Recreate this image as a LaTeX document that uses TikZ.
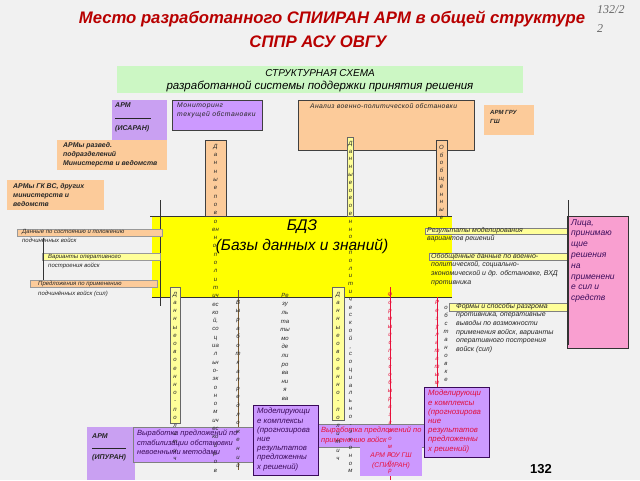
\documentclass[tikz,border=0pt]{standalone}
\usepackage{fontspec}
\setmainfont{Liberation Sans}
\newfontfamily\serifit{Liberation Serif}
\newfontfamily\wideA[LetterSpace=8]{Liberation Sans}
\newfontfamily\wideB[LetterSpace=5]{Liberation Sans}
\makeatletter
\newcommand\vtext[1]{\@tfor\vch:=#1\do{\vch\\}}
\makeatother
\definecolor{peach}{HTML}{FCCB9A}
\definecolor{lgreen}{HTML}{CCF7C4}
\definecolor{lav}{HTML}{C9A0F2}
\definecolor{purp}{HTML}{CC99FF}
\definecolor{byell}{HTML}{FFFF00}
\definecolor{lyell}{HTML}{FFFF99}
\definecolor{pinkb}{HTML}{F99FD0}
\definecolor{titred}{HTML}{B80000}
\definecolor{bgc}{HTML}{F1F1F1}
\definecolor{dpurp}{HTML}{3A0A5A}
\definecolor{redt}{HTML}{E8103A}
\definecolor{brownl}{HTML}{7A5A30}
\begin{document}
\begin{tikzpicture}[x=1pt,y=-1pt,
  sm/.style={font=\itshape\fontsize{6}{9.6}\selectfont, text=black!85, align=left, inner sep=0pt, anchor=north west},
  rb/.style={sm, font=\itshape\fontsize{7}{8.6}\selectfont},
  tb/.style={sm, font=\bfseries\itshape\fontsize{6.9}{9}\selectfont},
  vcol/.style={font=\itshape\fontsize{6}{#1}\selectfont, text=black!85, align=center, inner sep=0pt, anchor=north},
  boxline/.style={draw=black!75, line width=0.8pt},
  shad/.style={draw=black!80, line width=0.6pt}]
\useasboundingbox (0,0) rectangle (640,480);
\fill[bgc] (0,0) rectangle (640,480);
% title
\node (t1) [font=\bfseries\itshape\fontsize{16.7}{20}\selectfont, text=titred, inner sep=0pt] at (332,19) {Место разработанного СПИИРАН АРМ в общей структуре};
\node (t2) [font=\bfseries\itshape\fontsize{16.7}{20}\selectfont, text=titred, inner sep=0pt] at (318,42) {СППР АСУ ОВГУ};
\node (pn) [font=\serifit\itshape\fontsize{12}{19}\selectfont, text=black!60, align=left, inner sep=0pt, anchor=north west] at (597,5) {132/2\\2};
% header
\fill[lgreen] (117,66) rectangle (523,93);
\node (h1) [font=\itshape\fontsize{10}{12}\selectfont, inner sep=0pt] at (320,73) {СТРУКТУРНАЯ СХЕМА};
\node (h2) [font=\itshape\fontsize{11.5}{12}\selectfont, inner sep=0pt] at (320,86) {разработанной системы поддержки принятия решения};
% top boxes
\fill[lav] (112,100) rectangle (167,140);
\node (arm1) [tb, font=\bfseries\itshape\fontsize{7}{9.5}\selectfont] at (115,102) {АРМ\\[4pt]\rule[2pt]{36pt}{0.4pt}\\(ИСАРАН)};
\fill[purp, boxline] (172,100) rectangle (262,130);
\node (mon) [sm, font=\wideA\itshape\fontsize{6.8}{9}\selectfont] at (177,103) {Мониторинг\\текущей обстановки};
\fill[peach, boxline] (298,100) rectangle (474,150);
\node (anl) [sm, font=\wideB\itshape\fontsize{6.8}{9}\selectfont] at (310,103) {Анализ военно-политической обстановки};
\fill[peach] (484,105) rectangle (534,135);
\node (gru) [tb, font=\bfseries\itshape\fontsize{6}{9}\selectfont] at (490,110) {АРМ ГРУ\\ГШ};
\fill[peach] (57,140) rectangle (167,170);
\node (razv) [tb] at (63,142) {АРМы развед.\\подразделений\\Министерств и ведомств};
\fill[peach] (7,180) rectangle (104,210);
\node (gkvs) [tb] at (13,183) {АРМы ГК ВС, других\\министерств и\\ведомств};
% BDZ
\fill[byell] (152,216) rectangle (452,297);
\draw[shad] (150,216) -- (452,216);
\draw[shad] (152,297) -- (452,297);
\draw[shad] (160,200) -- (160,306);
\node (bdz1) [font=\itshape\fontsize{15.5}{17}\selectfont, inner sep=0pt] at (302,227) {БДЗ};
\node (bdz2) [font=\itshape\fontsize{15.5}{17}\selectfont, inner sep=0pt] at (302,246) {(Базы данных и знаний)};
% top strips
\fill[peach, boxline] (205,140) rectangle (226,216);
\fill[lyell, draw=black!60] (347,137) rectangle (353,216);
\fill[peach, boxline] (436,140) rectangle (447,216);
% bottom strips
\fill[lyell, draw=black!60] (170,287) rectangle (180,423);
\fill[lyell, draw=black!60] (332,287) rectangle (344,420);
\draw[brownl, line width=1pt] (238,290) -- (238,470);
\draw[redt, line width=0.8pt] (390,287) -- (390,480);
\draw[redt, line width=0.8pt] (437,297) -- (437,400);
\draw[shad] (185,297) -- (250,297);
% bottom boxes under letters
\fill[lav] (87,427) rectangle (135,480);
\node (arm2) [tb, font=\bfseries\itshape\fontsize{7}{9}\selectfont] at (92,433) {АРМ\\[3pt]\rule[2pt]{34pt}{0.4pt}\\(ИПУРАН)};
\fill[purp, draw=black!50] (133,427) rectangle (318,462);
\node (vyr1) [sm, font=\itshape\fontsize{7.5}{9.5}\selectfont, text=dpurp] at (137,430) {Выработка предложений по\\стабилизации обстановки\\невоенными методами};
\fill[purp, draw=black!50] (318,424) rectangle (425,447);
\node (vyr2) [sm, font=\itshape\fontsize{7.5}{9.5}\selectfont, text=redt] at (321,427) {Выработка предложений по\\применению войск};
\fill[purp] (360,447) rectangle (422,476);
\node (gou) [font=\itshape\fontsize{6.8}{9.5}\selectfont, text=redt, align=center, inner sep=0pt] at (391,461) {АРМ ГОУ ГШ\\(СПИИРАН)};
% letter columns
\node (cA) [vcol=8.3] at (215.5,144) {\vtext{Данныепово}ен\\н\\о-\\п\\о\\л\\и\\т\\ич\\ес\\ко\\й,\\со\\ц\\иа\\л\\ьн\\о-\\эк\\о\\н\\о\\м\\ич\\ес\\ко\\й\\р.\\о\\в};
\node (cB) [vcol=7.8] at (350.5,141) {\vtext{Данныеовоенно-политической,социально-эконом}};
\node (cC) [vcol=7.8] at (441.5,145) {\vtext{Обобщённые}};
\node (cD) [vcol=8.2] at (175,292) {\vtext{Данныеовоенно-политич}};
\node (cF) [vcol=8.2] at (338,292) {\vtext{Данныеовоенно-политич}};
\node (cE) [vcol=8.6] at (238,300) {\vtext{Выработкапредложений}};
\node (cG) [vcol=8.6] at (285,293) {Ре\\зу\\ль\\та\\ты\\мо\\де\\ли\\ро\\ва\\ни\\я\\ва\\ри\\ан\\то\\в};
\node (cR1) [vcol=8, text=redt] at (390,292) {\vtext{Формыиспособыразгромапр}};
\node (cR2) [vcol=8, text=redt] at (437,300) {\vtext{Результатым}};
\node (cH) [vcol=8] at (446,306) {\vtext{обстановке}};
% modelling boxes
\fill[purp, draw=dpurp, line width=0.8pt] (253,405) rectangle (318,475);
\node (mod1) [sm, font=\itshape\fontsize{7.8}{9.2}\selectfont, text=dpurp] at (257,408) {Моделирующи\\е комплексы\\(прогнозирова\\ние\\результатов\\предложенны\\х решений)};
\fill[purp, draw=dpurp, line width=0.8pt] (424,387) rectangle (489,457);
\node (mod2) [sm, font=\itshape\fontsize{7.8}{9.2}\selectfont, text=redt!80!purple] at (428,390) {Моделирующи\\е комплексы\\(прогнозирова\\ние\\результатов\\предложенны\\х решений)};
% left bars
\fill[peach, draw=black!40] (17,229) rectangle (162,236);
\node (l1) [sm] at (22,229) {Данные по состоянию и положению\\подчинённых войск};
\fill[lyell, draw=black!40] (42,253) rectangle (160,260);
\node (l2) [sm] at (48,254) {Варианты оперативного\\построения войск};
\fill[peach, draw=black!40] (30,280) rectangle (157,287);
\node (l3) [sm] at (38,281) {Предложения по применению\\подчинённых войск (сил)};
\draw[shad] (43,238) -- (43,280);
% right bars
\fill[lyell, draw=black!50] (425,228) rectangle (570,234);
\node (r1) [rb] at (427,227) {Результаты моделирования\\вариантов решений};
\fill[lyell, draw=black!50] (429,253) rectangle (570,260);
\node (r2) [rb] at (431,253) {Обобщённые данные по военно-\\политической, социально-\\экономической и др. обстановке, ВХД\\противника};
\fill[lyell, draw=black!50] (449,303) rectangle (574,311);
\node (r3) [rb] at (456,303) {Формы и способы разгрома\\противника, оперативные\\выводы по возможности\\применения войск, варианты\\оперативного построения\\войск (сил)};
% pink box
\fill[pinkb, draw=black!80, line width=1pt] (567,216) rectangle (628,348);
\node (dm) [sm, font=\itshape\fontsize{8.5}{10.8}\selectfont, text=dpurp] at (571,219) {Лица,\\принимаю\\щие\\решения\\на\\применени\\е сил и\\средств};
\draw[shad] (568,200) -- (568,345);
% page number
\node (num) [font=\bfseries\fontsize{13}{15}\selectfont, inner sep=0pt] at (541,469) {132};
\end{tikzpicture}
\end{document}
